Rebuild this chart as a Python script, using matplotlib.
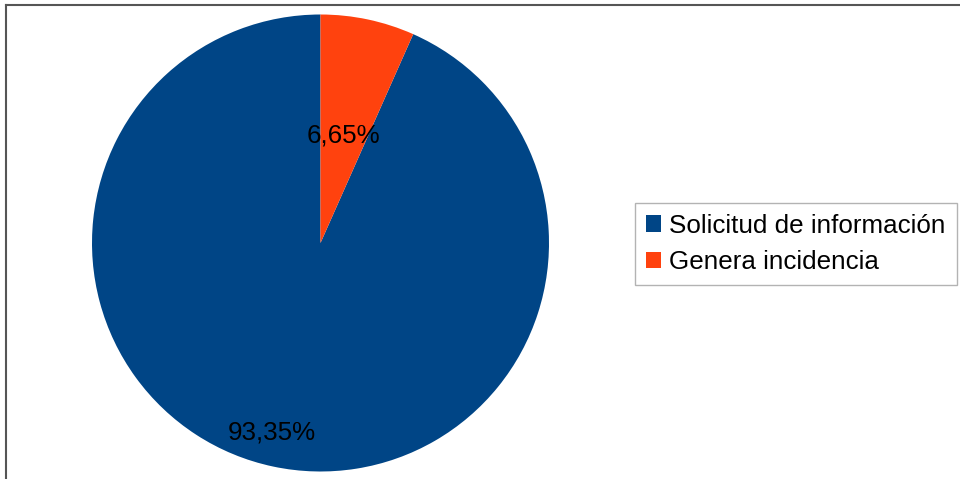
import numpy as np
import matplotlib
matplotlib.use("Agg")
import matplotlib.pyplot as plt
from matplotlib.patches import Patch
from matplotlib.lines import Line2D

plt.rcParams['font.family'] = ['Liberation Sans', 'DejaVu Sans']

categories = ["Solicitud de información", "Genera incidencia"]
values = [93.35, 6.65]
labels = ["93,35%", "6,65%"]
colors = ["#004586", "#ff420e"]
label_dist = [0.845, 0.49]
label_rot = [-2.5, 0.0]

W, H = 960, 479
fig = plt.figure(figsize=(W / 100, H / 100), dpi=100)
cx, cy, r = 320.5, 243, 228.5
ax = fig.add_axes([(cx - r) / W, (H - cy - r) / H, 2 * r / W, 2 * r / H])
wedges, _ = ax.pie(values, colors=colors, startangle=90, counterclock=True,
                   radius=1.0, wedgeprops=dict(linewidth=0))
ax.set_xlim(-1, 1)
ax.set_ylim(-1, 1)
ax.set_aspect('equal')
ax.axis('off')

for w, lab, d, dr in zip(wedges, labels, label_dist, label_rot):
    ang = np.deg2rad((w.theta1 + w.theta2) / 2 + dr)
    ax.text(d * np.cos(ang), d * np.sin(ang), lab, ha='center', va='center_baseline',
            fontsize=18.7, color='#000000')

handles = [Patch(facecolor=c, edgecolor='none') for c in colors]
leg = fig.legend(handles, categories, loc='center left',
                 bbox_to_anchor=(635 / W, 1 - 244 / H), fontsize=18.7,
                 frameon=True, fancybox=False, framealpha=1,
                 handlelength=0.6, handleheight=0.6, handletextpad=0.3,
                 borderpad=0.42, labelspacing=0.48, borderaxespad=0)
leg.get_frame().set_edgecolor('#b3b3b3')
leg.get_frame().set_linewidth(1.0)

fig.add_artist(Line2D([6 / W, 1.0], [1 - 5 / H, 1 - 5 / H], color='#555555', lw=1.5,
                      transform=fig.transFigure))
fig.add_artist(Line2D([6 / W, 6 / W], [0, 1 - 5 / H], color='#555555', lw=1.5,
                      transform=fig.transFigure))

fig.savefig("out.png", dpi=100)
